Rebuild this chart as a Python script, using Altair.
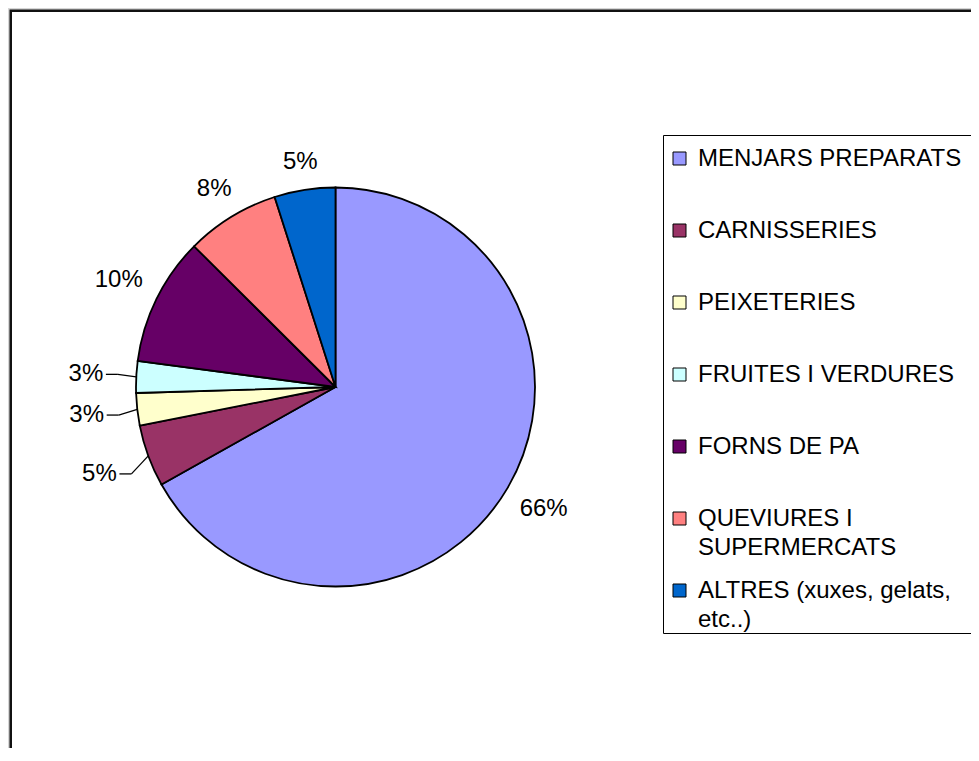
import altair as alt
import pandas as pd

# ---- data ----
categories = [
    "MENJARS PREPARATS",
    "CARNISSERIES",
    "PEIXETERIES",
    "FRUITES I VERDURES",
    "FORNS DE PA",
    "QUEVIURES I SUPERMERCATS",
    "ALTRES (xuxes, gelats, etc..)",
]
values = [66.4, 5.0, 2.6, 2.55, 10.3, 7.55, 4.9]
colors = ["#9999FF", "#993366", "#FFFFCC", "#CCFFFF", "#660066", "#FF8080", "#0066CC"]
legend_line1 = ["MENJARS PREPARATS", "CARNISSERIES", "PEIXETERIES", "FRUITES I VERDURES",
                "FORNS DE PA", "QUEVIURES I", "ALTRES (xuxes, gelats,"]
legend_line2 = ["", "", "", "", "", "SUPERMERCATS", "etc..)"]

# ---- layout ----
W, H = 963, 740
CX, CY, R = 327.5, 379.0, 199.5
FONT = "Liberation Sans"

df = pd.DataFrame({
    "cat": categories,
    "value": values,
    "idx": list(range(len(categories))),
    "l1": legend_line1,
    "l2": legend_line2,
})

color_scale = alt.Scale(domain=categories, range=colors)
base = alt.Chart(df)

one = alt.Data(values=[{"a": 1}])

frame = alt.Chart(one).mark_rect(fill="white", stroke="#111111", strokeWidth=2.5).encode(
    x=alt.value(2.75), x2=alt.value(1000), y=alt.value(2.75), y2=alt.value(800)
)

arcs = base.mark_arc(stroke="black", strokeWidth=1.8).encode(
    theta=alt.Theta("value:Q", stack=True),
    order=alt.Order("idx:Q"),
    color=alt.Color("cat:N", scale=color_scale, legend=None),
    x=alt.value(CX), y=alt.value(CY), radius=alt.value(R),
)

lab = (
    base.transform_joinaggregate(total="sum(value)")
    .transform_window(cum="sum(value)", sort=[alt.SortField("idx")], frame=[None, 0])
    .transform_calculate(mid="2*PI*(datum.cum - datum.value/2)/datum.total")
    .transform_calculate(pct="format(datum.value, '.0f') + '%'")
    .transform_calculate(lead="datum.value < 6 && datum.mid > PI && datum.mid < 1.6*PI ? 1 : 0")
    .transform_calculate(hw="7*length(datum.pct) + 3")
    .transform_calculate(
        lr=f"{R} + 16.5 + 16.5*datum.lead + datum.hw*abs(sin(datum.mid)) + 9*abs(cos(datum.mid))"
    )
    .transform_calculate(lx=f"{CX} + datum.lr*sin(datum.mid)")
    .transform_calculate(ly=f"{CY} - datum.lr*cos(datum.mid)")
)

labels = lab.mark_text(font=FONT, fontSize=24, color="black", baseline="middle").encode(
    x=alt.X("lx:Q", scale=None),
    y=alt.Y("ly:Q", scale=None),
    text="pct:N",
)

lead = (
    lab.transform_filter("datum.lead == 1")
    .transform_calculate(sx="datum.lx + datum.hw + 3")
    .transform_calculate(sx2="datum.lx + datum.hw + 15")
    .transform_calculate(ex=f"{CX} + {R}*sin(datum.mid)")
    .transform_calculate(ey=f"{CY} - {R}*cos(datum.mid)")
)
stub = lead.mark_rule(color="black", strokeWidth=1.3).encode(
    x=alt.X("sx:Q", scale=None), x2="sx2:Q",
    y=alt.Y("ly:Q", scale=None), y2="ly:Q",
)
diag = lead.mark_rule(color="black", strokeWidth=1.3).encode(
    x=alt.X("sx2:Q", scale=None), x2="ex:Q",
    y=alt.Y("ly:Q", scale=None), y2="ey:Q",
)

legend_box = alt.Chart(one).mark_rect(fill="white", stroke="black", strokeWidth=1).encode(
    x=alt.value(655.5), x2=alt.value(1000), y=alt.value(127.5), y2=alt.value(625.5)
)

ypos = alt.Y("cat:N", sort=categories,
             scale=alt.Scale(type="point", domain=categories, range=[150.5, 582.5], padding=0),
             axis=None)

leg_sym = base.mark_square(size=169, stroke="black", strokeWidth=1, opacity=1).encode(
    x=alt.value(671.5), y=ypos,
    color=alt.Color("cat:N", scale=color_scale, legend=None),
)
leg_t1 = base.mark_text(font=FONT, fontSize=24, align="left", baseline="middle", color="black").encode(
    x=alt.value(690), y=ypos, text="l1:N"
)
leg_t2 = base.mark_text(font=FONT, fontSize=24, align="left", baseline="middle", color="black", dy=29).encode(
    x=alt.value(690), y=ypos, text="l2:N"
)

chart = (
    alt.layer(frame, arcs, labels, stub, diag, legend_box, leg_sym, leg_t1, leg_t2)
    .properties(width=W, height=H, padding=0, autosize=alt.AutoSizeParams(type="none"),
                background="#d6d6d6")
    .configure_view(stroke=None)
)

chart.save("out.html", embed_options={"renderer": "svg", "actions": False})
